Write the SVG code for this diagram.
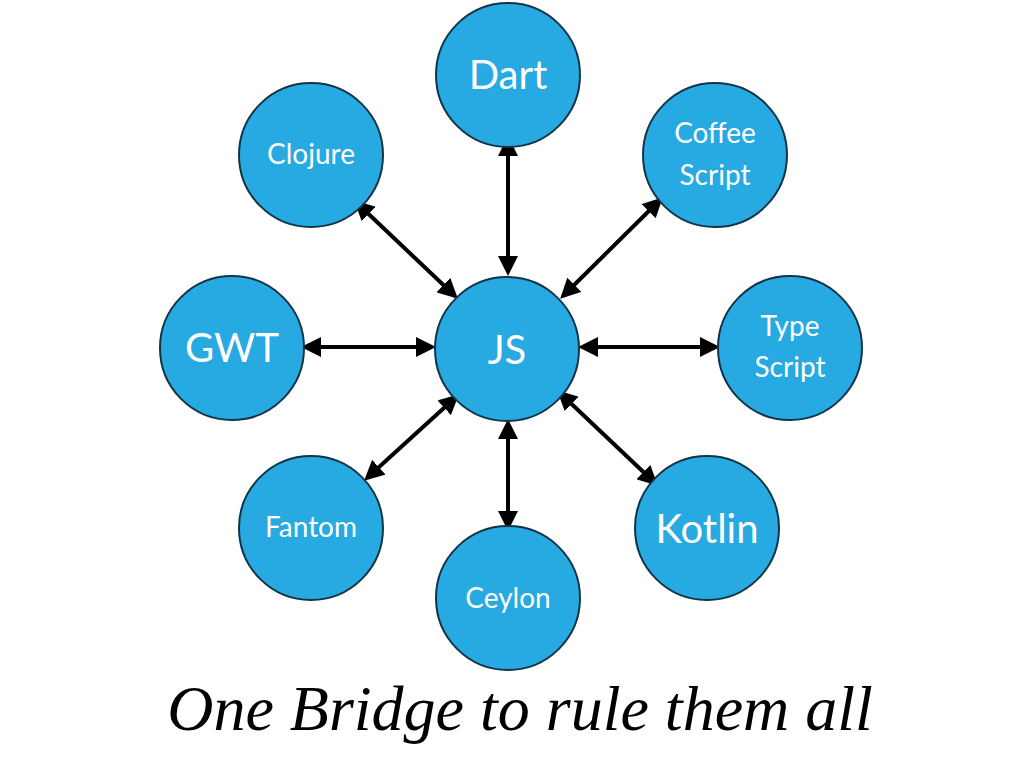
<svg xmlns="http://www.w3.org/2000/svg" width="1024" height="768" viewBox="0 0 1024 768">
<style>
.n{fill:#27a9e1;stroke:#123447;stroke-width:2}
.t{fill:#fff;font-family:Lato,"Open Sans",sans-serif;text-anchor:middle}
.c{stroke:#000;stroke-width:4;fill:none;marker-start:url(#a);marker-end:url(#a)}
</style>
<defs>
<marker id="a" viewBox="0 0 10 10" refX="8" refY="5" markerWidth="5" markerHeight="5" orient="auto-start-reverse" markerUnits="strokeWidth"><path d="M0,0 L10,5 L0,10 Z" fill="#000"/></marker>
</defs>
<rect width="1024" height="768" fill="#fff"/>
<g id="connectors">
<line class="c" x1="508" y1="140" x2="508" y2="272"/>
<line class="c" x1="357" y1="203" x2="455" y2="296"/>
<line class="c" x1="660" y1="200" x2="563" y2="296"/>
<line class="c" x1="305" y1="347" x2="432" y2="347"/>
<line class="c" x1="582" y1="347" x2="716" y2="347"/>
<line class="c" x1="367" y1="478" x2="456" y2="397"/>
<line class="c" x1="508" y1="423" x2="508" y2="527"/>
<line class="c" x1="655" y1="483" x2="560" y2="393"/>
</g>
<g id="js"><circle class="n" cx="507" cy="349" r="72"/><text class="t" x="507" y="364" font-size="40">JS</text></g>
<g id="dart"><circle class="n" cx="508" cy="75" r="72"/><text class="t" x="508" y="89" font-size="40">Dart</text></g>
<g id="clojure"><circle class="n" cx="311" cy="155" r="72"/><text class="t" x="311" y="164" font-size="28">Clojure</text></g>
<g id="coffee"><circle class="n" cx="715" cy="155" r="72"/><text class="t" x="715" y="143" font-size="28">Coffee</text><text class="t" x="715" y="185" font-size="28">Script</text></g>
<g id="gwt"><circle class="n" cx="232" cy="348" r="72"/><text class="t" x="232" y="362" font-size="40">GWT</text></g>
<g id="type"><circle class="n" cx="790" cy="348" r="72"/><text class="t" x="790" y="336" font-size="28">Type</text><text class="t" x="790" y="377" font-size="28">Script</text></g>
<g id="fantom"><circle class="n" cx="311" cy="528" r="72"/><text class="t" x="311" y="537" font-size="28">Fantom</text></g>
<g id="ceylon"><circle class="n" cx="508" cy="598" r="72"/><text class="t" x="508" y="608" font-size="28">Ceylon</text></g>
<g id="kotlin"><circle class="n" cx="707" cy="528" r="72"/><text class="t" x="707" y="543" font-size="40">Kotlin</text></g>
<text x="520" y="730" font-family="Liberation Serif,serif" font-style="italic" font-size="64" text-anchor="middle" fill="#000">One Bridge to rule them all</text>
</svg>
